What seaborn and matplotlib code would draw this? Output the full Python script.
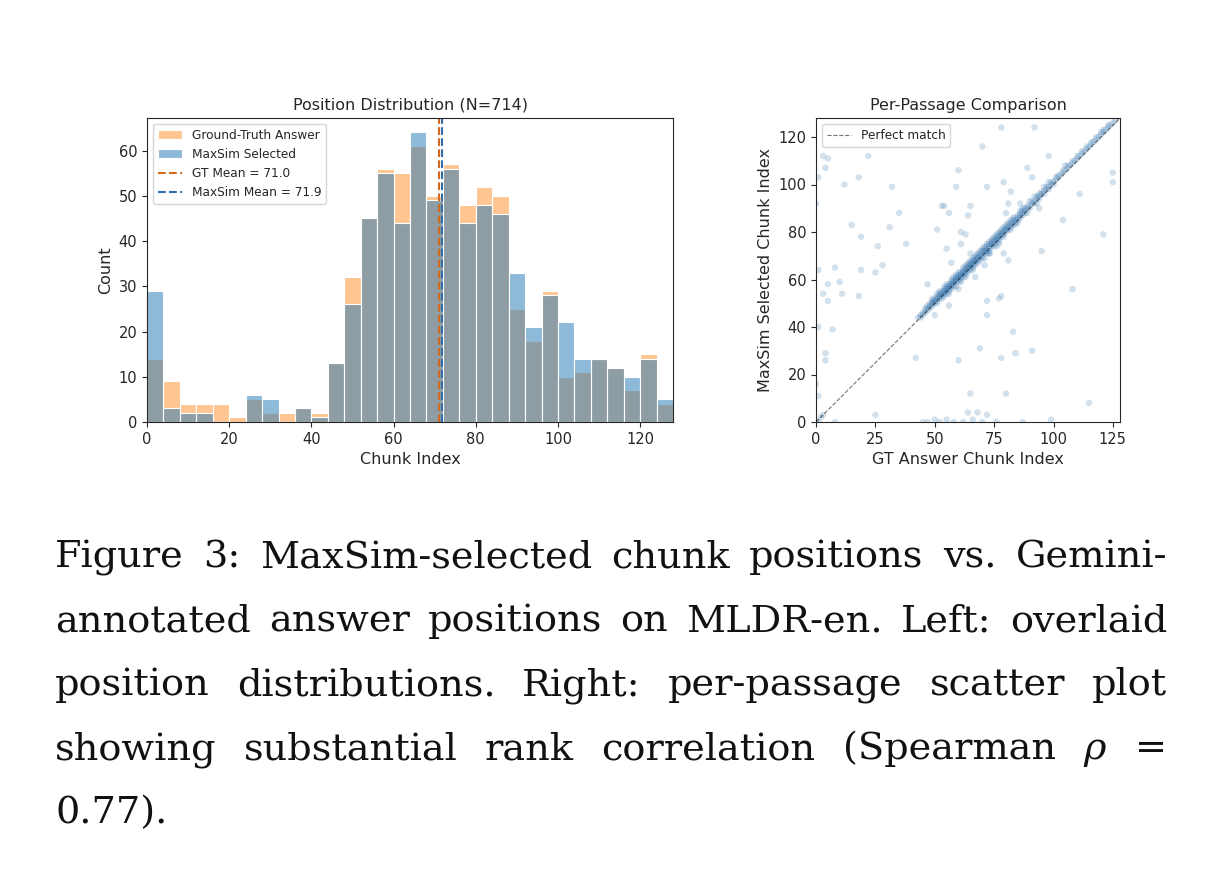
import numpy as np
import pandas as pd
import matplotlib
matplotlib.use("Agg")
import matplotlib.pyplot as plt
import seaborn as sns

# Histogram counts, 4-chunk bins from 0 to 128
bin_edges = list(range(0, 132, 4))
gt_counts = [14, 9, 4, 4, 4, 1, 5, 2, 2, 3, 2, 13, 32, 45, 56, 55,
             61, 50, 57, 48, 52, 50, 25, 18, 29, 10, 11, 14, 12, 7, 15, 4]
maxsim_counts = [29, 3, 2, 2, 0, 0, 6, 5, 0, 3, 1, 13, 26, 45, 55, 44,
                 64, 49, 56, 44, 48, 46, 33, 21, 28, 22, 14, 14, 12, 10, 14, 5]
gt_mean = 71.0
maxsim_mean = 71.9

# Per-passage scatter: (GT chunk index, MaxSim chunk index)
off_diag_pairs = [
    (78, 124), (92, 124), (70, 116), (5, 111), (4, 107), (1, 103), (0, 92), (22, 112),
    (98, 112), (60, 106), (89, 107), (91, 103), (12, 100), (18, 103), (32, 99), (59, 99),
    (79, 101), (80, 88), (94, 90), (111, 96), (125, 105), (125, 101), (15, 83), (35, 88),
    (54, 91), (56, 88), (65, 91), (64, 87), (51, 81), (31, 82), (19, 78), (26, 74),
    (38, 75), (63, 79), (104, 85), (121, 79), (8, 65), (1, 64), (19, 64), (25, 63),
    (28, 66), (10, 59), (5, 58), (3, 54), (11, 54), (5, 51), (18, 53), (1, 40),
    (7, 39), (55, 73), (57, 67), (71, 66), (67, 61), (65, 71), (73, 71), (79, 71),
    (81, 68), (60, 56), (56, 49), (50, 45), (72, 45), (78, 53), (95, 72), (108, 56),
    (83, 38), (4, 29), (4, 26), (42, 27), (60, 26), (69, 31), (78, 27), (84, 29),
    (91, 30), (80, 12), (65, 12), (115, 8), (1, 11), (25, 3), (64, 4), (68, 4),
    (72, 3), (50, 1), (55, 1), (45, 0), (52, 0), (62, 0), (87, 0), (99, 1),
    (8, 0), (3, 3), (1, 0), (82, 97), (86, 92), (81, 92), (72, 99), (61, 80),
    (61, 75), (53, 91), (47, 58), (77, 52), (72, 51), (3, 112), (0, 16), (66, 1),
    (70, 0), (76, 0), (58, 0), (47, 0), (0, 0), (2, 2),
]
diag_pairs = [
    (43, 44), (44, 45), (44, 44), (45, 46), (45, 45), (46, 47), (46, 46),
    (47, 48), (47, 47), (47, 49), (48, 49), (48, 48), (48, 50),
    (49, 50), (49, 49), (49, 51), (49, 50), (50, 51), (50, 50), (50, 52), (50, 51),
    (51, 52), (51, 51), (51, 53), (51, 50), (52, 53), (52, 52), (52, 54), (52, 53),
    (53, 54), (53, 53), (53, 55), (53, 54), (53, 52), (54, 55), (54, 54), (54, 56), (54, 55), (54, 53),
    (55, 56), (55, 55), (55, 57), (55, 56), (55, 54), (56, 57), (56, 56), (56, 58), (56, 57), (56, 55),
    (57, 58), (57, 57), (57, 59), (57, 58), (57, 56), (58, 59), (58, 58), (58, 60), (58, 59), (58, 57),
    (59, 60), (59, 59), (59, 61), (59, 60), (59, 62), (60, 61), (60, 60), (60, 62), (60, 61), (60, 59),
    (61, 62), (61, 61), (61, 63), (61, 62), (61, 60), (62, 63), (62, 62), (62, 64), (62, 63), (62, 65),
    (63, 64), (63, 63), (63, 65), (63, 64), (63, 62), (64, 65), (64, 64), (64, 66), (64, 65), (64, 63),
    (65, 66), (65, 65), (65, 67), (65, 66), (65, 68), (66, 67), (66, 66), (66, 68), (66, 67), (66, 64),
    (67, 68), (67, 67), (67, 69), (67, 68), (67, 66), (68, 69), (68, 68), (68, 70), (68, 69),
    (69, 70), (69, 69), (69, 71), (69, 72), (70, 71), (70, 70), (70, 72), (70, 69),
    (71, 72), (71, 71), (71, 73), (71, 72), (72, 73), (72, 72), (72, 74), (72, 75),
    (73, 74), (73, 73), (73, 75), (73, 72), (74, 75), (74, 74), (74, 76), (74, 75),
    (75, 76), (75, 75), (75, 77), (75, 78), (76, 77), (76, 76), (76, 78), (76, 77),
    (77, 78), (77, 77), (77, 79), (77, 76), (78, 79), (78, 78), (78, 80), (78, 79),
    (79, 80), (79, 79), (79, 81), (79, 82), (80, 81), (80, 80), (80, 82), (80, 81),
    (81, 82), (81, 81), (81, 83), (82, 83), (82, 82), (82, 84), (83, 84), (83, 83), (83, 85),
    (84, 85), (84, 84), (84, 86), (85, 86), (85, 85), (85, 87), (86, 87), (86, 86), (86, 88),
    (87, 88), (87, 87), (87, 89), (88, 89), (88, 88), (89, 90), (89, 91), (90, 91), (90, 90),
    (91, 92), (91, 93), (92, 93), (92, 92), (93, 94), (93, 95), (94, 95), (94, 94),
    (95, 96), (95, 97), (96, 97), (96, 96), (97, 98), (97, 99), (98, 99), (98, 98),
    (99, 100), (99, 101), (100, 101), (100, 100), (101, 102), (102, 103), (102, 104),
    (103, 104), (104, 105), (104, 106), (105, 106), (106, 107), (106, 108), (107, 108),
    (108, 109), (108, 110), (109, 110), (110, 111), (110, 112), (111, 112), (112, 113),
    (112, 114), (113, 114), (114, 115), (114, 116), (115, 116), (116, 117), (116, 118),
    (117, 118), (118, 119), (118, 120), (119, 120), (120, 121), (120, 122), (121, 122),
    (121, 123), (122, 123), (123, 124), (123, 125), (124, 125), (125, 126), (126, 127),
    (52, 55), (58, 61), (63, 66), (68, 71), (73, 76), (77, 80), (82, 85), (88, 90),
    (56, 54), (61, 59), (66, 65), (71, 69), (76, 74), (85, 84), (94, 96), (101, 103),
    (46, 48), (49, 52), (51, 54), (54, 57), (55, 58), (57, 60), (59, 57), (60, 63),
    (62, 61), (63, 61), (64, 67), (65, 64), (66, 69), (67, 70), (68, 67), (69, 68),
    (70, 73), (71, 74), (72, 71), (73, 71), (74, 77), (75, 74), (76, 79), (77, 75),
    (78, 81), (79, 78), (80, 83), (81, 84), (82, 81), (83, 86), (84, 83), (86, 89),
    (87, 90), (89, 88), (90, 93), (92, 95), (93, 92), (96, 99), (98, 101), (105, 108),
]

caption_lines = [
    "Figure 3: MaxSim-selected chunk positions vs. Gemini-",
    "annotated answer positions on MLDR-en. Left: overlaid",
    "position distributions.  Right: per-passage scatter plot",
    "showing substantial rank correlation (Spearman $\\rho$ =",
    "0.77).",
]

sns.set_style("ticks")
plt.rcParams["font.family"] = ["DejaVu Sans"]
plt.rcParams["mathtext.fontset"] = "dejavuserif"

W, H = 1218, 876
fig = plt.figure(figsize=(W / 100, H / 100), dpi=100)
label_fs, tick_fs, legend_fs = 11.5, 10.5, 8.7

# Left: overlaid position histograms
ax1 = fig.add_axes([147 / W, 1 - 422 / H, 526 / W, 304 / H])
centers = [e + 2 for e in bin_edges[:-1]]
hist_df = pd.DataFrame({"chunk": centers, "gt": gt_counts, "maxsim": maxsim_counts})
sns.histplot(data=hist_df, x="chunk", weights="gt", bins=bin_edges, color="C1",
             alpha=0.45, edgecolor="white", linewidth=0.8, label="Ground-Truth Answer", ax=ax1)
sns.histplot(data=hist_df, x="chunk", weights="maxsim", bins=bin_edges, color="C0",
             alpha=0.5, edgecolor="white", linewidth=0.8, label="MaxSim Selected", ax=ax1)
ax1.axvline(gt_mean, color="#d2691e", linestyle="--", linewidth=1.5, label=f"GT Mean = {gt_mean:.1f}")
ax1.axvline(maxsim_mean, color="#2f6eaa", linestyle="--", linewidth=1.5,
            label=f"MaxSim Mean = {maxsim_mean:.1f}")
ax1.set_xlim(0, 128)
ax1.set_title(f"Position Distribution (N={sum(gt_counts)})", fontsize=label_fs)
ax1.set_xlabel("Chunk Index", fontsize=label_fs)
ax1.set_ylabel("Count", fontsize=label_fs)
ax1.tick_params(labelsize=tick_fs)
handles, labels = ax1.get_legend_handles_labels()
order = [labels.index(n) for n in ["Ground-Truth Answer", "MaxSim Selected",
                                   f"GT Mean = {gt_mean:.1f}", f"MaxSim Mean = {maxsim_mean:.1f}"]]
ax1.legend([handles[k] for k in order], [labels[k] for k in order],
           loc="upper left", fontsize=legend_fs)

# Right: per-passage scatter
ax2 = fig.add_axes([816 / W, 1 - 422 / H, 304 / W, 304 / H])
pairs = off_diag_pairs + diag_pairs
sc_df = pd.DataFrame(pairs, columns=["gt", "maxsim"])
sns.scatterplot(data=sc_df, x="gt", y="maxsim", s=22, alpha=0.22, color="#3a78b0",
                edgecolor="none", ax=ax2)
ax2.plot([0, 128], [0, 128], linestyle="--", color="k", alpha=0.55, linewidth=0.8,
         label="Perfect match")
ax2.set_xlim(0, 128)
ax2.set_ylim(0, 128)
ax2.set_xticks(range(0, 126, 25))
ax2.set_yticks(range(0, 121, 20))
ax2.set_title("Per-Passage Comparison", fontsize=label_fs)
ax2.set_xlabel("GT Answer Chunk Index", fontsize=label_fs)
ax2.set_ylabel("MaxSim Selected Chunk Index", fontsize=label_fs)
ax2.tick_params(labelsize=tick_fs)
ax2.legend(loc="upper left", fontsize=legend_fs)

# Caption, justified like the paper text
fig.canvas.draw()
renderer = fig.canvas.get_renderer()
baselines = [567, 631, 695, 759, 823]
left, right = 55, 1167
for i, line in enumerate(caption_lines):
    words = line.split()
    y = 1 - baselines[i] / H
    texts = [fig.text(0, y, w, fontsize=27.5, family="DejaVu Serif", va="baseline",
                      color="#111111")
             for w in words]
    widths = [t.get_window_extent(renderer).width for t in texts]
    if i < len(caption_lines) - 1 and len(words) > 1:
        gap = (right - left - sum(widths)) / (len(words) - 1)
    else:
        gap = 10
    x = left
    for t, w in zip(texts, widths):
        t.set_x(x / W)
        x += w + gap

fig.savefig("out.png", dpi=100)
